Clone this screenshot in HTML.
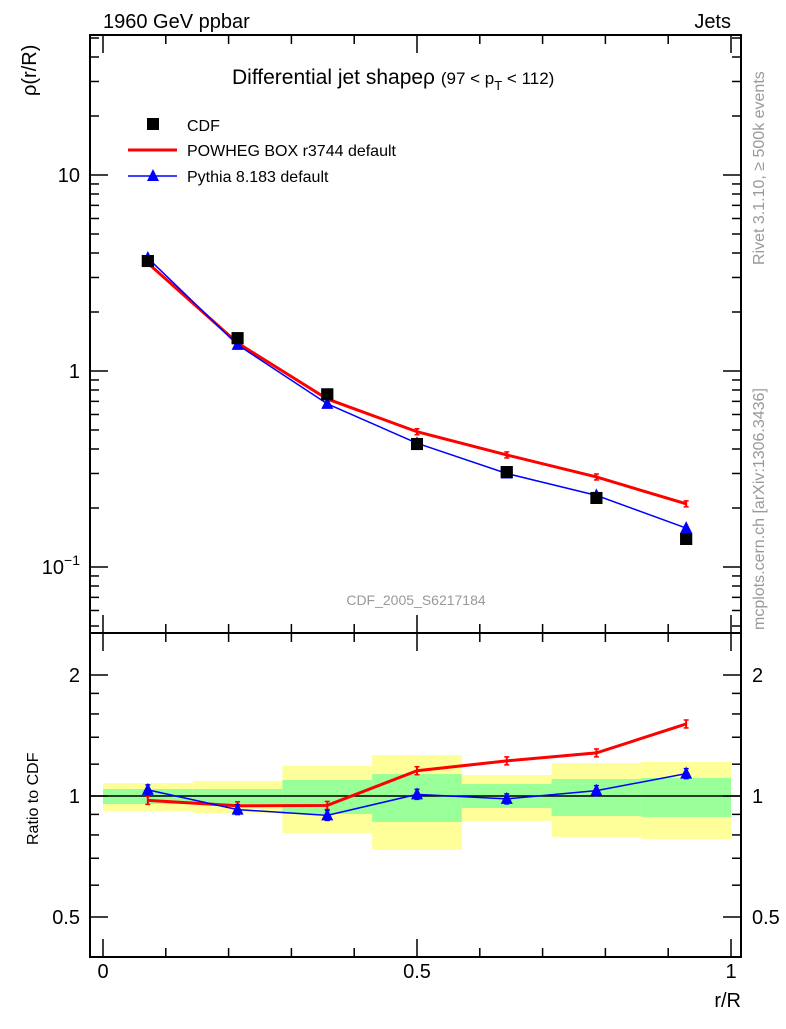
<!DOCTYPE html>
<html><head><meta charset="utf-8"><style>
body{margin:0;background:#fff}
svg text{font-family:"Liberation Sans",sans-serif}
</style></head><body>
<svg id="c" width="786" height="1024" xmlns="http://www.w3.org/2000/svg"></svg>
<script>
const xCenters=[0.0714,0.2143,0.3571,0.5,0.6429,0.7857,0.9286];
const binEdges=[0,0.1429,0.2857,0.4286,0.5714,0.7143,0.8571,1.0];
const cdfVals=[3.64,1.47,0.76,0.424,0.305,0.225,0.139];
const powhegVals=[3.55,1.39,0.72,0.49,0.373,0.288,0.21];
const pythiaVals=[3.77,1.36,0.68,0.428,0.30,0.232,0.158];
const yellowLo=[0.918,0.907,0.809,0.734,0.867,0.791,0.782];
const yellowHi=[1.077,1.090,1.188,1.265,1.128,1.208,1.215];
const greenLo=[0.955,0.955,0.902,0.862,0.934,0.892,0.887];
const greenHi=[1.041,1.041,1.096,1.134,1.071,1.102,1.109];
const mainTicks=[[10,"10"],[1,"1"]];
const ratioTicks=[[0.5,"0.5"],[1,"1"],[2,"2"]];
const xTicks=[[0,"0"],[0.5,"0.5"],[1,"1"]];

const svg=document.getElementById('c');
const NS="http://www.w3.org/2000/svg";
function mk(t,a,p){const e=document.createElementNS(NS,t);for(const k in a)e.setAttribute(k,a[k]);(p||svg).appendChild(e);return e;}
const L=90,R=741,T1=35,B1=633,T2=633,B2=957;
const X=v=>103+628*v;
const Y1=v=>371-196*Math.log10(v);
const Y2=v=>796-121*Math.log2(v);

binEdges.slice(0,-1).forEach((e,i)=>{
 const x0=X(e),x1=X(binEdges[i+1]);
 let r=mk('rect',{x:x0,y:Y2(yellowHi[i]),width:x1-x0,height:Y2(yellowLo[i])-Y2(yellowHi[i]),fill:'#ffff99'});
 
 
 r=mk('rect',{x:x0,y:Y2(greenHi[i]),width:x1-x0,height:Y2(greenLo[i])-Y2(greenHi[i]),fill:'#99ff99'});
 
 
});
mk('line',{x1:L,x2:R,y1:Y2(1),y2:Y2(1),stroke:'#000','stroke-width':1.5});

let f=mk('rect',{x:L,y:T1,width:R-L,height:B1-T1,fill:'none',stroke:'#000','stroke-width':2});

f=mk('rect',{x:L,y:T2,width:R-L,height:B2-T2,fill:'none',stroke:'#000','stroke-width':2});


function tick(y,len){mk('line',{x1:L,x2:L+len,y1:y,y2:y,stroke:'#000','stroke-width':1.5});mk('line',{x1:R,x2:R-len,y1:y,y2:y,stroke:'#000','stroke-width':1.5});}
for(let d=-2;d<=1;d++)for(let m=1;m<10;m++){const v=m*Math.pow(10,d);const y=Y1(v);if(y<T1||y>B1)continue;tick(y,m==1?18:9);}
mainTicks.forEach(t=>{const e=mk('text',{x:80,y:Y1(t[0])+7,'font-size':20,'text-anchor':'end'});e.textContent=t[1];});
let e=mk('text',{x:80,y:Y1(0.1)+7,'font-size':20,'text-anchor':'end'});e.innerHTML='10<tspan dy="-9" font-size="14">−1</tspan>';

[0.5,0.6,0.7,0.8,0.9,1,1.2,1.4,1.6,1.8,2].forEach(v=>{tick(Y2(v),[0.5,1,2].includes(v)?18:9);});
ratioTicks.forEach(t=>{let a=mk('text',{x:80,y:Y2(t[0])+7,'font-size':20,'text-anchor':'end'});a.textContent=t[1];
 a=mk('text',{x:752,y:Y2(t[0])+7,'font-size':20});a.textContent=t[1];});
for(let i=0;i<=10;i++){const x=X(i/10),len=i%5==0?18:9;[[B1,-1],[T1,1],[T2,1],[B2,-1]].forEach(p=>mk('line',{x1:x,x2:x,y1:p[0],y2:p[0]+p[1]*len,stroke:'#000','stroke-width':1.5}));}
xTicks.forEach(t=>{const a=mk('text',{x:X(t[0]),y:978,'font-size':20,'text-anchor':'middle'});a.textContent=t[1];});

function series(vals,Y,color,w,name,marker,err){
 const pts=xCenters.map((x,i)=>[X(x),Y(vals[i])]);
 if(color){const p=mk('polyline',{points:pts.map(p=>p.join(',')).join(' '),fill:'none',stroke:color,'stroke-width':w});}
 pts.forEach(([x,y])=>{
  if(err){mk('line',{x1:x,x2:x,y1:y-err,y2:y+err,stroke:color,'stroke-width':2});mk('line',{x1:x-2.5,x2:x+2.5,y1:y-err,y2:y-err,stroke:color,'stroke-width':1.5});mk('line',{x1:x-2.5,x2:x+2.5,y1:y+err,y2:y+err,stroke:color,'stroke-width':1.5});}
  let m;
  if(marker=='sq')m=mk('rect',{x:x-6,y:y-6,width:12,height:12,fill:'#000'});
  else if(marker=='tri')m=mk('polygon',{points:`${x},${y-7} ${x-6},${y+5} ${x+6},${y+5}`,fill:'#00f'});
  if(m){}
 });
}
series(cdfVals,Y1,null,0,'cdf','sq');
series(powhegVals,Y1,'#f00',3,'powheg',null,3);
series(pythiaVals,Y1,'#00f',1.5,'pythia','tri');
series(cdfVals,Y1,null,0,'cdf','sq');
const rp=powhegVals.map((v,i)=>v/cdfVals[i]);
const ry=pythiaVals.map((v,i)=>v/cdfVals[i]);
series(rp,Y2,'#f00',3,'powheg-ratio',null,4);
series(ry,Y2,'#00f',1.5,'pythia-ratio','tri',5);

function txt(x,y,s,size,attrs,name,html){const a=mk('text',Object.assign({x:x,y:y,'font-size':size},attrs||{}));if(html)a.innerHTML=s;else a.textContent=s;return a;}
txt(103,28,'1960 GeV ppbar',20,{},'header-left');
txt(731,28,'Jets',20,{'text-anchor':'end'},'header-right');
txt(232,84,'Differential jet shapeρ <tspan font-size="17">(97 &lt; p</tspan><tspan font-size="13" dy="6">T</tspan><tspan font-size="17" dy="-6"> &lt; 112)</tspan>',21,{},'plot-title',true);
txt(416,605,'CDF_2005_S6217184',14,{'text-anchor':'middle',fill:'#999'},'analysis-label');
txt(741,1007,'r/R',20,{'text-anchor':'end'},'x-axis-title');
txt(0,0,'ρ(r/R)',20,{transform:'translate(36,96) rotate(-90)','text-anchor':'start'},'y-axis-title');
txt(0,0,'Ratio to CDF',16,{transform:'translate(38,845) rotate(-90)'},'ratio-axis-title');
txt(0,0,'Rivet 3.1.10, ≥ 500k events',16,{transform:'translate(764,265) rotate(-90)',fill:'#999'},'rivet-label');
txt(0,0,'mcplots.cern.ch [arXiv:1306.3436]',16,{transform:'translate(764,630) rotate(-90)',fill:'#999'},'mcplots-label');
let m=mk('rect',{x:147,y:118,width:12,height:12,fill:'#000'});
txt(187,131,'CDF',16,{},'legend-cdf');
mk('line',{x1:128,x2:177,y1:150,y2:150,stroke:'#f00','stroke-width':3});
txt(187,156,'POWHEG BOX r3744 default',16,{},'legend-powheg');
mk('line',{x1:128,x2:177,y1:176,y2:176,stroke:'#00f','stroke-width':1.5});
mk('polygon',{points:'153,169 147,181 159,181',fill:'#00f'});
txt(187,182,'Pythia 8.183 default',16,{},'legend-pythia');
</script>
</body></html>
